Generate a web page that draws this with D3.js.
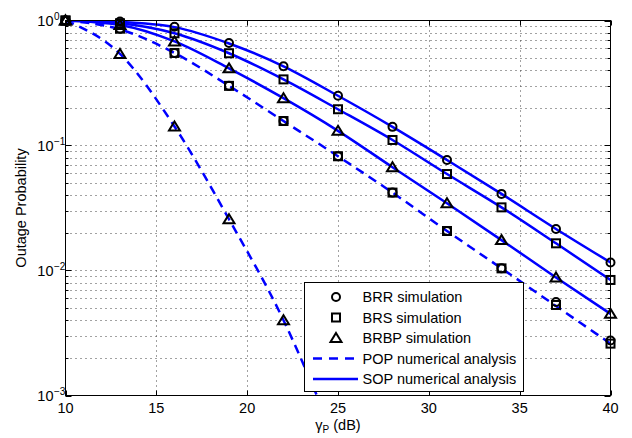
<!DOCTYPE html>
<html>
<head>
<meta charset="utf-8">
<script src="https://cdn.jsdelivr.net/npm/d3@7"></script>
<style>
  body { margin: 0; background: #fff; }
  text { font-family: "Liberation Sans", Arial, sans-serif; fill: #000; }
</style>
</head>
<body>
<div id="chart"></div>
<script>
// gamma_P in dB where the curves / simulations were evaluated
var snrDb = [10, 13, 16, 19, 22, 25, 28, 31, 34, 37, 40];

// SOP numerical analysis (solid lines)
var sopBrr  = [1, 0.975, 0.885, 0.655, 0.43, 0.25, 0.141, 0.0766, 0.041, 0.0215, 0.0116];
var sopBrs  = [1, 0.95, 0.79, 0.547, 0.338, 0.195, 0.1107, 0.0591, 0.032, 0.0165, 0.0084];
var sopBrbp = [1, 0.92, 0.68, 0.414, 0.239, 0.131, 0.067, 0.0345, 0.0175, 0.0088, 0.0045];

// POP numerical analysis (dashed lines)
var popBrrBrs = [1, 0.85, 0.55, 0.30, 0.157, 0.082, 0.042, 0.0207, 0.0104, 0.0052, 0.0026];
var popBrbpDb = [10, 13, 16, 19, 22, 24];
var popBrbp   = [1, 0.54, 0.142, 0.0257, 0.004, 0.00088];

// simulations (markers)
var brrSimSop  = [1, 0.98, 0.89, 0.66, 0.43, 0.25, 0.141, 0.0766, 0.041, 0.0215, 0.0116];
var brsSimSop  = [1, 0.95, 0.79, 0.547, 0.338, 0.195, 0.1107, 0.0591, 0.032, 0.0165, 0.0084];
var brbpSimSop = [1, 0.92, 0.68, 0.414, 0.239, 0.131, 0.067, 0.0345, 0.0175, 0.0088, 0.0045];
var brrSimPop  = [1, 0.86, 0.55, 0.30, 0.157, 0.082, 0.042, 0.0207, 0.0104, 0.0056, 0.00275];
var brsSimPop  = [1, 0.86, 0.55, 0.30, 0.157, 0.082, 0.042, 0.0207, 0.0104, 0.0053, 0.0026];
var brbpSimPopDb = [10, 13, 16, 19, 22];
var brbpSimPop   = [1, 0.54, 0.142, 0.0257, 0.004];

var xTicks = [10, 15, 20, 25, 30, 35, 40];
var yDecades = [1e-3, 1e-2, 1e-1, 1];
var yDecadeExp = ["\u22123", "\u22122", "\u22121", "0"];
var legendLabels = ["BRR simulation", "BRS simulation", "BRBP simulation",
                    "POP numerical analysis", "SOP numerical analysis"];

var W = 632, H = 438;
var plot = { left: 65.5, right: 610.5, top: 20.5, bottom: 395.5 };
var blue = "#0000ff";

var svg = d3.select("#chart").append("svg")
  .attr("width", W).attr("height", H);

var x = d3.scaleLinear().domain([10, 40]).range([plot.left, plot.right]);
var y = d3.scaleLog().domain([1e-3, 1]).range([plot.bottom, plot.top]);

// minor log ticks 2..9 per decade
var yMinor = [];
yDecades.slice(0, 3).forEach(function(d) {
  for (var k = 2; k <= 9; k++) yMinor.push(k * d);
});

svg.append("defs").append("clipPath").attr("id", "clip")
  .append("rect")
    .attr("x", plot.left).attr("y", plot.top)
    .attr("width", plot.right - plot.left).attr("height", plot.bottom - plot.top);

// dotted grid
var grid = svg.append("g").attr("class", "grid")
  .attr("stroke", "#444").attr("stroke-width", 1).attr("stroke-dasharray", "1,4");
grid.selectAll(".gx").data(xTicks.slice(1, -1)).enter().append("line")
  .attr("x1", function(d) { return Math.round(x(d)) + 0.5; })
  .attr("x2", function(d) { return Math.round(x(d)) + 0.5; })
  .attr("y1", plot.top).attr("y2", plot.bottom);
grid.selectAll(".gy").data(yMinor.concat(yDecades.slice(1, 3))).enter().append("line")
  .attr("x1", plot.left).attr("x2", plot.right)
  .attr("y1", function(d) { return Math.round(y(d)) + 0.5; })
  .attr("y2", function(d) { return Math.round(y(d)) + 0.5; });

// curves
var lineGen = function(xs) {
  return d3.line()
    .x(function(d, i) { return x(xs[i]); })
    .y(function(d) { return y(d); })
    .curve(d3.curveMonotoneX);
};

var curves = svg.append("g").attr("clip-path", "url(#clip)")
  .attr("fill", "none").attr("stroke", blue).attr("stroke-width", 2.5);

[sopBrr, sopBrs, sopBrbp].forEach(function(s) {
  curves.append("path").attr("d", lineGen(snrDb)(s));
});
curves.append("path").attr("d", lineGen(snrDb)(popBrrBrs))
  .attr("stroke-dasharray", "9,6");
curves.append("path").attr("d", lineGen(popBrbpDb)(popBrbp))
  .attr("stroke-dasharray", "9,6");

// marker shapes
function drawMarker(g, kind, cx, cy) {
  var m;
  if (kind === "circle") {
    m = g.append("circle").attr("cx", cx).attr("cy", cy).attr("r", 4);
  } else if (kind === "square") {
    m = g.append("rect").attr("x", cx - 4).attr("y", cy - 4).attr("width", 8).attr("height", 8);
  } else {
    m = g.append("path").attr("d", "M" + cx + "," + (cy - 5) + "L" + (cx + 5.5) + "," + (cy + 4) +
      "L" + (cx - 5.5) + "," + (cy + 4) + "Z");
  }
  return m;
}

var markers = svg.append("g").attr("fill", "none").attr("stroke", "#000")
  .attr("stroke-width", 2).attr("stroke-linejoin", "miter");

function markerSeries(kind, xs, vals) {
  vals.forEach(function(v, i) { drawMarker(markers, kind, x(xs[i]), y(v)); });
}
markerSeries("square", snrDb, brsSimPop);
markerSeries("circle", snrDb, brrSimPop);
markerSeries("triangle", brbpSimPopDb, brbpSimPop);
markerSeries("triangle", snrDb, brbpSimSop);
markerSeries("square", snrDb, brsSimSop);
markerSeries("circle", snrDb, brrSimSop);

// axes box + ticks
var axes = svg.append("g").attr("stroke", "#000").attr("stroke-width", 1);
axes.append("rect")
  .attr("x", plot.left).attr("y", plot.top)
  .attr("width", plot.right - plot.left).attr("height", plot.bottom - plot.top)
  .attr("fill", "none");

xTicks.forEach(function(t) {
  var px = Math.round(x(t)) + 0.5;
  axes.append("line").attr("x1", px).attr("x2", px).attr("y1", plot.bottom).attr("y2", plot.bottom - 5);
  axes.append("line").attr("x1", px).attr("x2", px).attr("y1", plot.top).attr("y2", plot.top + 5);
});
yDecades.forEach(function(t) {
  var py = Math.round(y(t)) + 0.5;
  axes.append("line").attr("x1", plot.left).attr("x2", plot.left + 6).attr("y1", py).attr("y2", py);
  axes.append("line").attr("x1", plot.right).attr("x2", plot.right - 6).attr("y1", py).attr("y2", py);
});
yMinor.forEach(function(t) {
  var py = Math.round(y(t)) + 0.5;
  axes.append("line").attr("x1", plot.left).attr("x2", plot.left + 3).attr("y1", py).attr("y2", py);
  axes.append("line").attr("x1", plot.right).attr("x2", plot.right - 3).attr("y1", py).attr("y2", py);
});

// tick labels
svg.append("g").selectAll("text").data(xTicks).enter().append("text")
  .attr("x", function(d) { return x(d); })
  .attr("y", 413)
  .attr("text-anchor", "middle")
  .style("font-size", "14.5px")
  .text(function(d) { return d; });

var yl = svg.append("g");
yDecades.forEach(function(t, i) {
  var py = y(t);
  yl.append("text").attr("x", 53.5).attr("y", py + 5.5)
    .attr("text-anchor", "end").style("font-size", "14.5px").text("10");
  yl.append("text").attr("x", 54).attr("y", py - 0.5)
    .style("font-size", "10px").text(yDecadeExp[i]);
});

// axis titles
svg.append("text")
  .attr("transform", "translate(26," + ((plot.top + plot.bottom) / 2) + ") rotate(-90)")
  .attr("text-anchor", "middle")
  .style("font-size", "14.5px")
  .text("Outage Probability");

var xt = svg.append("text")
  .attr("x", (plot.left + plot.right) / 2).attr("y", 430)
  .attr("text-anchor", "middle")
  .style("font-size", "14.5px");
xt.append("tspan").text("\u03b3");
xt.append("tspan").attr("dy", 3).style("font-size", "10px").text("P");
xt.append("tspan").attr("dy", -3).text(" (dB)");

// legend
var leg = svg.append("g");
leg.append("rect")
  .attr("x", 304.5).attr("y", 282.5).attr("width", 219).attr("height", 109)
  .attr("fill", "#fff").attr("stroke", "#000").attr("stroke-width", 1);
var rowY = [297, 317.5, 338, 358.5, 379];
var legMarks = leg.append("g").attr("fill", "none").attr("stroke", "#000").attr("stroke-width", 2);
drawMarker(legMarks, "circle", 336, rowY[0]);
drawMarker(legMarks, "square", 336, rowY[1]);
drawMarker(legMarks, "triangle", 336, rowY[2]);
leg.append("line").attr("x1", 313).attr("x2", 358).attr("y1", rowY[3]).attr("y2", rowY[3])
  .attr("stroke", blue).attr("stroke-width", 2.5).attr("stroke-dasharray", "9,7");
leg.append("line").attr("x1", 313).attr("x2", 358).attr("y1", rowY[4]).attr("y2", rowY[4])
  .attr("stroke", blue).attr("stroke-width", 2.5);
leg.selectAll(".lt").data(legendLabels).enter().append("text")
  .attr("x", 362.5)
  .attr("y", function(d, i) { return rowY[i] + 5; })
  .style("font-size", "14.5px")
  .text(function(d) { return d; });
</script>
</body>
</html>
